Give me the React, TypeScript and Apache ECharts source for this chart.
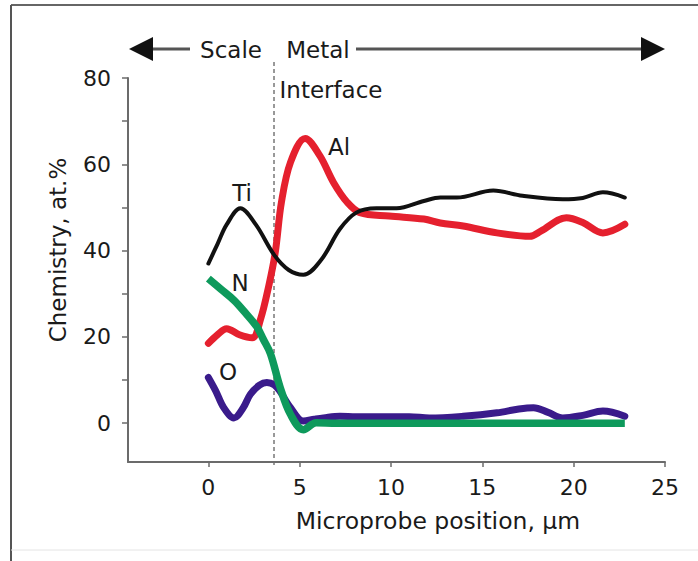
import React, { useEffect, useRef } from "react";
import * as echarts from "echarts";

// Microprobe position (µm) and chemistry (at.%)
const tiX = [0, 0.5, 1, 1.75, 2.6, 3.6, 4.4, 5.2, 6.2, 7.2, 8.1, 9.2, 10.3, 11.8, 12.7, 13.6, 15.6, 17.2, 19.4, 20.5, 21.6, 22.8];
const tiY = [37, 41.5, 46, 49.8, 46, 39, 35.5, 34.4, 38, 45, 48.8, 49.8, 49.8, 51.5, 52.3, 52.3, 53.9, 52.7, 51.9, 52.2, 53.5, 52.3];

const alX = [0, 0.5, 1.0, 1.7, 2.4, 2.85, 3.3, 3.66, 4.0, 4.5, 5.3, 6.1, 6.85, 7.6, 8.3, 9.9, 11.8, 12.7, 13.95, 15.8, 17.6, 18.2, 19.6, 20.5, 21.6, 22.8];
const alY = [18.5, 20.5, 21.9, 20.5, 19.8, 24, 31.7, 39.5, 51.2, 60.5, 66, 62, 55.8, 51.2, 48.8, 48, 47.3, 46.4, 45.7, 44.1, 43.3, 44.5, 47.6, 46.5, 44.1, 46.1];

const nX = [0, 0.7, 1.4, 2.0, 2.66, 3.0, 3.4, 3.93, 4.5, 5.2, 5.9, 7, 8, 10, 15, 20, 22.8];
const nY = [33.5, 31, 28.5, 25.7, 22.3, 19.5, 16.1, 8.3, 2, -1.5, 0.1, 0, 0, 0, 0, 0, 0];

const oX = [0, 0.4, 0.84, 1.4, 1.9, 2.3, 2.8, 3.2, 3.6, 3.9, 4.5, 5.2, 5.8, 6.3, 7.2, 8.1, 9.9, 11, 12.1, 13.95, 15.8, 17, 17.8, 18.6, 19.4, 20.5, 21.6, 22.8];
const oY = [10.6, 7.5, 3.6, 1.2, 3.5, 6.7, 8.8, 9.4, 8.9, 7.5, 3.6, 0.5, 0.9, 1.2, 1.6, 1.5, 1.5, 1.5, 1.2, 1.6, 2.4, 3.3, 3.6, 2.5, 1.2, 1.8, 2.8, 1.6];

const xTicks = [0, 5, 10, 15, 20, 25];
const yTicks = [0, 10, 20, 30, 40, 50, 60, 70, 80];
const yLabels = [0, 20, 40, 60, 80];

const FONT = "DejaVu Sans, Liberation Sans, Arial, sans-serif";

const pairs = (xs: number[], ys: number[]) => xs.map((x, i) => [x, ys[i]]);

export default function App() {
  const ref = useRef<HTMLDivElement>(null);
  useEffect(() => {
    document.body.style.margin = "0";
    if (!ref.current) return;
    const chart = echarts.init(ref.current, undefined, { renderer: "svg" });
    const axisColor = "#6b6b6b";
    const txt = (text: string, x: number, y: number, size = 23, extra: any = {}) => ({
      type: "text",
      x,
      y,
      silent: true,
      ...extra,
      style: {
        text,
        fill: "#1a1a1a",
        fontSize: size,
        fontFamily: FONT,
        align: "center",
        verticalAlign: "middle",
      },
    });
    const line = (x1: number, y1: number, x2: number, y2: number, stroke: string, w: number, dash?: number[]) => ({
      type: "line",
      silent: true,
      shape: { x1, y1, x2, y2 },
      style: { stroke, lineWidth: w, lineDash: dash },
    });
    chart.setOption({
      animation: false,
      backgroundColor: "#fff",
      grid: { left: 128, right: 33, top: 78, bottom: 99 },
      xAxis: {
        type: "value",
        min: -4.4,
        max: 25,
        axisLine: { show: true, onZero: false, lineStyle: { color: axisColor, width: 2 } },
        axisTick: { show: true, customValues: xTicks, length: 5, lineStyle: { color: axisColor, width: 1.5 } },
        axisLabel: { customValues: xTicks, fontSize: 22, color: "#1a1a1a", margin: 14, fontFamily: FONT },
        splitLine: { show: false },
      },
      yAxis: {
        type: "value",
        min: -9,
        max: 80,
        axisLine: { show: true, onZero: false, lineStyle: { color: axisColor, width: 2 } },
        axisTick: { show: true, customValues: yTicks, length: 6, lineStyle: { color: axisColor, width: 1.5 } },
        axisLabel: { customValues: yLabels, fontSize: 22, color: "#1a1a1a", margin: 17, fontFamily: FONT },
        splitLine: { show: false },
      },
      series: [
        {
          name: "Al",
          type: "line",
          data: pairs(alX, alY),
          smooth: 0.35,
          showSymbol: false,
          lineStyle: { color: "#e5202e", width: 7, cap: "round" },
          z: 2,
        },
        {
          name: "O",
          type: "line",
          data: pairs(oX, oY),
          smooth: 0.35,
          showSymbol: false,
          lineStyle: { color: "#3a1b8b", width: 7, cap: "round" },
          z: 3,
        },
        {
          name: "N",
          type: "line",
          data: pairs(nX, nY),
          smooth: 0.35,
          showSymbol: false,
          lineStyle: { color: "#0e9a5c", width: 7.5 },
          z: 4,
        },
        {
          name: "Ti",
          type: "line",
          data: pairs(tiX, tiY),
          smooth: 0.35,
          showSymbol: false,
          lineStyle: { color: "#111", width: 4, cap: "round" },
          z: 5,
        },
      ],
      graphic: [
        // frame
        line(11, 5, 698, 5, "#666", 2),
        line(11, 5, 11, 561, "#555", 2),
        line(11, 550, 698, 550, "#e4e4e4", 1),
        // interface dashed line
        line(274, 62, 274, 467, "#333", 1, [4, 3]),
        // arrows
        line(150, 49, 190, 49, "#555", 3),
        { type: "polygon", silent: true, shape: { points: [[129, 49], [153, 37], [153, 61]] }, style: { fill: "#111" } },
        line(356, 49, 643, 49, "#555", 3),
        { type: "polygon", silent: true, shape: { points: [[665, 49], [641, 37], [641, 61]] }, style: { fill: "#111" } },
        txt("Scale", 231, 50),
        txt("Metal", 318, 50),
        txt("Interface", 331, 90),
        txt("Al", 339, 147),
        txt("Ti", 242, 193),
        txt("N", 240, 283),
        txt("O", 228, 372),
        txt("Chemistry, at.%", 58, 250, 23, { rotation: Math.PI / 2 }),
        txt("Microprobe position, \u00b5m", 438, 521, 23.5),
      ],
    });
    return () => chart.dispose();
  }, []);
  return <div ref={ref} style={{ width: 698, height: 561 }} />;
}
